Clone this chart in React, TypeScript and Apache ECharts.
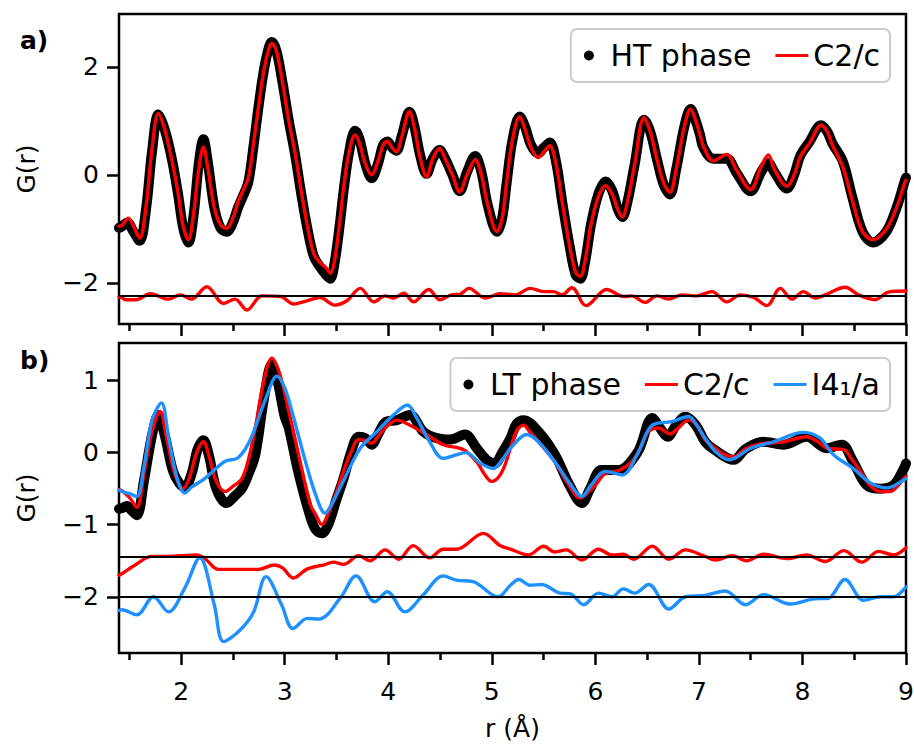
import React, { useEffect, useRef } from "react";
import * as echarts from "echarts";

const FONT = "DejaVu Sans";

// ---------- Panel a) HT phase ----------
const htData = [
  [1.4, -0.98], [1.43, -0.95], [1.48, -0.88], [1.54, -1.05], [1.6, -1.22], [1.66, -0.65], [1.72, 0.45],
  [1.78, 1.12], [1.84, 0.85], [1.91, 0.3], [1.97, -0.35], [2.02, -0.98], [2.07, -1.25], [2.12, -0.75],
  [2.17, 0.2], [2.215, 0.66], [2.26, 0.2], [2.32, -0.6], [2.38, -0.98], [2.44, -1.05], [2.5, -0.88],
  [2.55, -0.6], [2.6, -0.38], [2.65, -0.12], [2.7, 0.55], [2.75, 1.3], [2.8, 1.95], [2.85, 2.38],
  [2.876, 2.46], [2.92, 2.3], [2.98, 1.7], [3.04, 1.0], [3.1, 0.38], [3.16, -0.35], [3.22, -1.0],
  [3.28, -1.5], [3.34, -1.7], [3.4, -1.85], [3.44, -1.92], [3.48, -1.65], [3.53, -0.95], [3.57, -0.28],
  [3.62, 0.4], [3.68, 0.82], [3.72, 0.68], [3.78, 0.2], [3.84, -0.06], [3.9, 0.2], [3.95, 0.55],
  [3.99, 0.62], [4.04, 0.5], [4.08, 0.45], [4.13, 0.72], [4.205, 1.17], [4.25, 0.92], [4.31, 0.35],
  [4.37, 0.02], [4.43, 0.3], [4.495, 0.46], [4.55, 0.3], [4.62, 0.0], [4.69, -0.3], [4.76, 0.05],
  [4.84, 0.35], [4.9, 0.05], [4.96, -0.55], [5.05, -1.05], [5.1, -0.8], [5.14, -0.2], [5.2, 0.65],
  [5.27, 1.08], [5.32, 0.9], [5.38, 0.55], [5.45, 0.4], [5.5, 0.5], [5.56, 0.6], [5.62, 0.25],
  [5.68, -0.5], [5.75, -1.3], [5.81, -1.85], [5.855, -1.92], [5.9, -1.62], [5.96, -0.9], [6.03, -0.35],
  [6.1, -0.12], [6.16, -0.28], [6.22, -0.65], [6.26, -0.78], [6.31, -0.5], [6.38, 0.2], [6.47, 1.02],
  [6.53, 0.8], [6.6, 0.25], [6.66, -0.18], [6.72, -0.36], [6.78, 0.1], [6.86, 0.9], [6.92, 1.22],
  [6.97, 1.0], [7.01, 0.75], [7.045, 0.5], [7.14, 0.3], [7.27, 0.3], [7.36, 0.05], [7.5, -0.3],
  [7.6, 0.05], [7.67, 0.22], [7.73, 0.05], [7.85, -0.25], [7.92, 0.0], [7.98, 0.36], [8.07, 0.62],
  [8.18, 0.92], [8.24, 0.8], [8.29, 0.58], [8.39, 0.25], [8.48, -0.4], [8.58, -1.05], [8.68, -1.25],
  [8.81, -1.05], [8.91, -0.6], [8.99, -0.1], [9.0, -0.05],
];

const htFitC2c = [
  [1.4, -0.95], [1.43, -0.93], [1.49, -0.8], [1.54, -0.95], [1.6, -1.17], [1.66, -0.6], [1.72, 0.5],
  [1.78, 1.14], [1.84, 0.85], [1.91, 0.28], [1.97, -0.33], [2.02, -0.95], [2.07, -1.2], [2.12, -0.72],
  [2.17, 0.1], [2.215, 0.52], [2.26, 0.1], [2.32, -0.6], [2.38, -0.92], [2.44, -0.99], [2.5, -0.8],
  [2.55, -0.5], [2.6, -0.28], [2.65, -0.05], [2.7, 0.6], [2.75, 1.3], [2.8, 1.95], [2.85, 2.35],
  [2.876, 2.44], [2.92, 2.3], [2.98, 1.7], [3.04, 1.0], [3.1, 0.41], [3.16, -0.3], [3.22, -0.95],
  [3.28, -1.45], [3.34, -1.62], [3.4, -1.72], [3.44, -1.82], [3.48, -1.6], [3.53, -0.9], [3.57, -0.22],
  [3.62, 0.4], [3.68, 0.74], [3.72, 0.6], [3.78, 0.2], [3.84, 0.0], [3.9, 0.25], [3.95, 0.55],
  [3.99, 0.62], [4.04, 0.5], [4.08, 0.43], [4.13, 0.7], [4.205, 1.17], [4.25, 0.9], [4.31, 0.3],
  [4.37, -0.03], [4.43, 0.3], [4.495, 0.49], [4.55, 0.3], [4.62, 0.0], [4.69, -0.31], [4.76, 0.0],
  [4.84, 0.28], [4.9, 0.0], [4.96, -0.55], [5.05, -1.05], [5.1, -0.8], [5.14, -0.2], [5.2, 0.65],
  [5.27, 1.08], [5.32, 0.85], [5.38, 0.5], [5.45, 0.32], [5.5, 0.42], [5.56, 0.54], [5.62, 0.2],
  [5.68, -0.5], [5.75, -1.3], [5.81, -1.8], [5.855, -1.88], [5.9, -1.6], [5.96, -0.9], [6.03, -0.4],
  [6.1, -0.2], [6.16, -0.35], [6.22, -0.65], [6.26, -0.78], [6.31, -0.5], [6.38, 0.2], [6.47, 1.06],
  [6.53, 0.8], [6.6, 0.25], [6.66, -0.15], [6.72, -0.32], [6.78, 0.1], [6.86, 0.9], [6.92, 1.22],
  [6.97, 1.0], [7.01, 0.75], [7.045, 0.52], [7.14, 0.26], [7.27, 0.38], [7.36, 0.1], [7.5, -0.27],
  [7.6, 0.15], [7.67, 0.37], [7.73, 0.1], [7.85, -0.21], [7.92, 0.0], [7.98, 0.34], [8.07, 0.59],
  [8.18, 0.92], [8.24, 0.8], [8.29, 0.55], [8.39, 0.15], [8.48, -0.46], [8.58, -1.05], [8.68, -1.2],
  [8.81, -1.0], [8.91, -0.6], [8.99, -0.13], [9.0, -0.1],
];

const htDiffC2c = [
  [1.4, -2.26], [1.427, -2.27], [1.459, -2.31], [1.57, -2.31], [1.7, -2.2], [1.877, -2.3], [1.99, -2.22],
  [2.1, -2.3], [2.248, -2.07], [2.41, -2.38], [2.52, -2.3], [2.635, -2.5], [2.78, -2.24], [2.96, -2.25],
  [3.085, -2.39], [3.215, -2.33], [3.34, -2.27], [3.485, -2.41], [3.6, -2.33], [3.73, -2.1], [3.86, -2.35],
  [3.97, -2.24], [4.05, -2.28], [4.15, -2.19], [4.245, -2.35], [4.39, -2.12], [4.5, -2.31], [4.61, -2.22],
  [4.69, -2.21], [4.78, -2.1], [4.935, -2.28], [5.08, -2.2], [5.226, -2.22], [5.37, -2.1], [5.5, -2.16],
  [5.595, -2.16], [5.677, -2.22], [5.774, -2.09], [5.91, -2.42], [6.11, -2.12], [6.27, -2.25], [6.35, -2.24],
  [6.48, -2.36], [6.595, -2.24], [6.707, -2.3], [6.836, -2.22], [6.98, -2.24], [7.126, -2.16], [7.27, -2.35],
  [7.4, -2.22], [7.53, -2.27], [7.657, -2.42], [7.786, -2.1], [7.9, -2.3], [8.01, -2.16], [8.124, -2.28],
  [8.22, -2.22], [8.414, -2.08], [8.54, -2.22], [8.7, -2.31], [8.83, -2.17], [9.0, -2.15],
];
const HT_DIFF_OFFSET = -2.23;

// ---------- Panel b) LT phase ----------
const ltData = [
  [1.4, -0.78], [1.43, -0.77], [1.475, -0.74], [1.52, -0.8], [1.572, -0.87], [1.64, -0.4], [1.72, 0.25],
  [1.78, 0.52], [1.84, 0.25], [1.92, -0.25], [1.98, -0.42], [2.035, -0.48], [2.1, -0.3], [2.16, 0.05],
  [2.215, 0.17], [2.27, -0.05], [2.34, -0.5], [2.44, -0.7], [2.52, -0.6], [2.587, -0.5], [2.65, -0.3],
  [2.716, -0.03], [2.8, 0.75], [2.876, 1.22], [2.93, 1.0], [3.0, 0.5], [3.04, 0.34], [3.12, -0.2],
  [3.17, -0.49], [3.25, -0.9], [3.3, -1.07], [3.359, -1.12], [3.42, -1.0], [3.5, -0.65], [3.568, -0.36],
  [3.64, 0.0], [3.713, 0.22], [3.78, 0.2], [3.84, 0.11], [3.9, 0.25], [3.98, 0.43], [4.083, 0.45],
  [4.21, 0.52], [4.34, 0.29], [4.47, 0.2], [4.6, 0.18], [4.74, 0.25], [4.855, 0.06], [4.95, -0.1],
  [5.03, -0.15], [5.1, 0.0], [5.18, 0.2], [5.24, 0.4], [5.307, 0.45], [5.45, 0.29], [5.61, -0.03],
  [5.75, -0.45], [5.87, -0.7], [5.95, -0.5], [6.06, -0.24], [6.225, -0.24], [6.41, 0.01], [6.55, 0.48],
  [6.62, 0.35], [6.7, 0.22], [6.78, 0.38], [6.87, 0.5], [6.97, 0.38], [7.06, 0.15], [7.14, 0.05],
  [7.335, -0.1], [7.45, 0.05], [7.62, 0.15], [7.82, 0.11], [8.04, 0.22], [8.236, 0.06], [8.38, 0.11],
  [8.48, -0.1], [8.59, -0.4], [8.65, -0.48], [8.75, -0.5], [8.88, -0.45], [8.98, -0.22], [9.0, -0.15],
];

const ltFitC2c = [
  [1.4, -0.52], [1.43, -0.53], [1.5, -0.62], [1.572, -0.76], [1.64, -0.3], [1.72, 0.3], [1.797, 0.57],
  [1.86, 0.2], [1.94, -0.3], [2.02, -0.5], [2.08, -0.35], [2.15, 0.0], [2.215, 0.15], [2.27, -0.05],
  [2.34, -0.4], [2.425, -0.54], [2.5, -0.47], [2.587, -0.36], [2.65, -0.1], [2.716, 0.34], [2.8, 1.0],
  [2.876, 1.31], [2.95, 1.1], [3.04, 0.57], [3.17, -0.26], [3.25, -0.73], [3.3, -0.86], [3.359, -1.0],
  [3.42, -0.85], [3.5, -0.55], [3.568, -0.26], [3.64, 0.0], [3.713, 0.18], [3.77, 0.17], [3.84, 0.13],
  [3.9, 0.22], [3.97, 0.34], [4.083, 0.45], [4.21, 0.38], [4.37, 0.25], [4.53, 0.11], [4.727, 0.04],
  [4.855, -0.13], [4.93, -0.3], [5.0, -0.4], [5.06, -0.35], [5.114, -0.22], [5.18, 0.06], [5.24, 0.3],
  [5.307, 0.38], [5.37, 0.28], [5.45, 0.15], [5.61, -0.13], [5.73, -0.42], [5.854, -0.63], [5.93, -0.55],
  [6.0, -0.45], [6.096, -0.29], [6.225, -0.25], [6.35, -0.13], [6.43, 0.05], [6.514, 0.29], [6.61, 0.34],
  [6.723, 0.26], [6.8, 0.34], [6.9, 0.45], [6.98, 0.38], [7.06, 0.18], [7.14, 0.08], [7.25, -0.03],
  [7.335, -0.06], [7.45, 0.05], [7.59, 0.12], [7.82, 0.15], [8.04, 0.22], [8.14, 0.16], [8.236, 0.06],
  [8.4, 0.04], [8.48, -0.1], [8.56, -0.26], [8.65, -0.45], [8.75, -0.54], [8.85, -0.54], [8.92, -0.46],
  [8.98, -0.36], [9.0, -0.33],
];

const ltFitI41a = [
  [1.4, -0.52], [1.43, -0.54], [1.5, -0.57], [1.572, -0.61], [1.64, -0.2], [1.72, 0.45], [1.81, 0.69],
  [1.88, 0.2], [1.96, -0.35], [2.035, -0.56], [2.1, -0.48], [2.228, -0.36], [2.425, -0.12], [2.54, -0.08],
  [2.62, 0.05], [2.69, 0.25], [2.82, 0.76], [2.925, 1.06], [3.0, 0.9], [3.07, 0.57], [3.2, -0.12],
  [3.3, -0.59], [3.39, -0.84], [3.46, -0.7], [3.568, -0.39], [3.73, 0.06], [3.89, 0.29], [4.05, 0.52],
  [4.186, 0.66], [4.26, 0.52], [4.4, 0.15], [4.53, -0.08], [4.66, -0.03], [4.75, 0.0], [4.89, -0.15],
  [5.016, -0.22], [5.11, -0.08], [5.18, 0.06], [5.34, 0.25], [5.45, 0.15], [5.61, -0.13], [5.75, -0.42],
  [5.87, -0.61], [5.96, -0.45], [6.096, -0.26], [6.26, -0.31], [6.4, -0.04], [6.55, 0.38], [6.74, 0.43],
  [6.9, 0.5], [6.98, 0.38], [7.06, 0.2], [7.17, 0.0], [7.29, -0.1], [7.5, 0.06], [7.72, 0.15],
  [8.01, 0.28], [8.17, 0.2], [8.3, -0.03], [8.49, -0.22], [8.655, -0.42], [8.82, -0.49], [8.98, -0.38],
  [9.0, -0.36],
];

const ltDiffC2c = [
  [1.4, -1.7], [1.427, -1.68], [1.556, -1.56], [1.717, -1.44], [1.878, -1.44], [2.006, -1.43], [2.15, -1.42],
  [2.23, -1.47], [2.36, -1.62], [2.52, -1.62], [2.748, -1.62], [2.9, -1.56], [2.98, -1.6], [3.085, -1.74],
  [3.21, -1.62], [3.3, -1.58], [3.375, -1.56], [3.47, -1.52], [3.57, -1.55], [3.713, -1.43], [3.826, -1.5],
  [3.97, -1.35], [4.1, -1.48], [4.24, -1.29], [4.4, -1.46], [4.53, -1.34], [4.66, -1.34], [4.92, -1.12],
  [5.08, -1.29], [5.18, -1.34], [5.355, -1.42], [5.5, -1.3], [5.61, -1.38], [5.72, -1.35], [5.87, -1.49],
  [6.03, -1.34], [6.16, -1.42], [6.27, -1.41], [6.37, -1.48], [6.55, -1.3], [6.71, -1.48], [6.87, -1.35],
  [7.06, -1.44], [7.16, -1.49], [7.32, -1.43], [7.46, -1.5], [7.625, -1.41], [7.85, -1.47], [8.04, -1.42],
  [8.22, -1.51], [8.4, -1.36], [8.575, -1.52], [8.735, -1.37], [8.88, -1.42], [9.0, -1.32],
];

const ltDiffI41a = [
  [1.4, -2.19], [1.427, -2.18], [1.572, -2.25], [1.733, -2.0], [1.878, -2.21], [2.035, -1.88], [2.18, -1.46],
  [2.32, -2.11], [2.41, -2.62], [2.57, -2.46], [2.7, -2.21], [2.82, -1.72], [2.97, -2.11], [3.08, -2.44],
  [3.22, -2.3], [3.33, -2.31], [3.536, -2.02], [3.69, -1.71], [3.87, -2.07], [3.99, -1.93], [4.16, -2.21],
  [4.34, -1.97], [4.53, -1.71], [4.66, -1.77], [4.82, -1.79], [5.06, -2.0], [5.18, -1.84], [5.26, -1.76],
  [5.37, -1.84], [5.48, -1.83], [5.66, -1.95], [5.76, -1.96], [5.887, -2.11], [6.03, -1.95], [6.16, -2.0],
  [6.27, -1.89], [6.38, -1.95], [6.515, -1.83], [6.71, -2.17], [6.87, -2.0], [7.06, -1.98], [7.255, -1.92],
  [7.45, -2.11], [7.625, -1.97], [7.88, -2.1], [8.11, -2.03], [8.25, -2.02], [8.41, -1.76], [8.59, -2.05],
  [8.75, -2.0], [8.88, -2.0], [9.0, -1.86],
];
const LT_DIFF_OFFSET_C2C = -1.45;
const LT_DIFF_OFFSET_I41A = -2.0;

// ---------- Axes ----------
const X_MIN = 1.4;
const X_MAX = 9;
const xMajorTicks = [2, 3, 4, 5, 6, 7, 8, 9];
const xMinorTicks = [1.5, 2.5, 3.5, 4.5, 5.5, 6.5, 7.5, 8.5];
const yRangeA = [-2.76, 2.98];
const yRangeB = [-2.78, 1.52];
const yTicksA = [-2, 0, 2];
const yTicksB = [-2, -1, 0, 1];

const RED = "#ff0000";
const BLUE = "#1e90ff";
const LINE_ICON = "path://M0,0H33V3H0Z";
const TICK_FONT = 25;
const SPINE = 2.5;

const minusFmt = (v: number) => String(v).replace("-", "\u2212");

function xAxes(gridIndex: number, labels: boolean) {
  const base = {
    gridIndex,
    type: "value",
    min: X_MIN,
    max: X_MAX,
    position: "bottom",
    offset: 0,
    axisLine: { show: false, onZero: false },
    splitLine: { show: false },
  };
  return [
    {
      ...base,
      axisTick: { show: true, customValues: xMajorTicks, length: 12, lineStyle: { color: "#000", width: SPINE } },
      axisLabel: labels
        ? { show: true, customValues: xMajorTicks, margin: 26, fontSize: TICK_FONT, color: "#000", fontFamily: FONT }
        : { show: false },
      ...(labels
        ? {
            name: "r (Å)",
            nameLocation: "middle",
            nameGap: 63,
            nameTextStyle: { fontSize: TICK_FONT, color: "#000", fontFamily: FONT },
          }
        : {}),
    },
    {
      ...base,
      axisTick: { show: true, customValues: xMinorTicks, length: 7, lineStyle: { color: "#000", width: SPINE } },
      axisLabel: { show: false },
    },
  ];
}

function yAxis(gridIndex: number, range: number[], ticks: number[]) {
  return {
    gridIndex,
    type: "value",
    min: range[0],
    max: range[1],
    axisLine: { show: false, onZero: false },
    splitLine: { show: false },
    axisTick: { show: true, customValues: ticks, length: 12, lineStyle: { color: "#000", width: SPINE } },
    axisLabel: {
      show: true,
      customValues: ticks,
      formatter: minusFmt,
      margin: 20,
      fontSize: TICK_FONT,
      color: "#000",
      fontFamily: FONT,
    },
    name: "G(r)",
    nameLocation: "middle",
    nameGap: 80,
    nameTextStyle: { fontSize: TICK_FONT, color: "#000", fontFamily: FONT },
  };
}

function lineSeries(name: string, data: number[][], color: string, width: number, xi: number, yi: number, z: number, extra: any = {}) {
  return {
    type: "line",
    name,
    data,
    xAxisIndex: xi,
    yAxisIndex: yi,
    color,
    showSymbol: false,
    symbol: "none",
    smooth: 0.35,
    z,
    lineStyle: { color, width, cap: "round", join: "round" },
    itemStyle: { color },
    ...extra,
  };
}

function baseline(value: number) {
  return {
    silent: true,
    symbol: ["none", "none"],
    label: { show: false },
    lineStyle: { color: "#000", width: 2.2, type: "solid" },
    data: [{ yAxis: value }],
  };
}

function legend(top: number, items: any[]) {
  return {
    right: 24,
    top,
    orient: "horizontal",
    selectedMode: false,
    itemWidth: 33,
    itemHeight: 10,
    itemGap: 24,
    padding: [11, 10, 11, 13],
    borderColor: "#cccccc",
    borderWidth: 2,
    borderRadius: 6,
    backgroundColor: "rgba(255,255,255,0.8)",
    itemStyle: { borderWidth: 0 },
    textStyle: { fontSize: 30, color: "#000", fontFamily: FONT, lineHeight: 31 },
    data: items,
  };
}

export default function App() {
  const ref = useRef<HTMLDivElement>(null);

  useEffect(() => {
    if (!ref.current) return;
    const chart = echarts.init(ref.current, undefined, { renderer: "svg" });
    const option: any = {
      animation: false,
      backgroundColor: "#ffffff",
      textStyle: { fontFamily: FONT },
      grid: [
        { left: 119, top: 14, width: 787, height: 310, show: true, borderColor: "#000", borderWidth: SPINE, backgroundColor: "transparent", outerBoundsMode: "none" },
        { left: 119, top: 343, width: 787, height: 310, show: true, borderColor: "#000", borderWidth: SPINE, backgroundColor: "transparent", outerBoundsMode: "none" },
      ],
      xAxis: [...xAxes(0, false), ...xAxes(1, true)],
      yAxis: [yAxis(0, yRangeA, yTicksA), yAxis(1, yRangeB, yTicksB)],
      legend: [
        legend(29, [
          { name: "HT phase", icon: "circle" },
          { name: "C2/c", icon: LINE_ICON },
        ]),
        legend(358, [
          { name: "LT phase", icon: "circle" },
          { name: "C2/c", icon: LINE_ICON },
          { name: "I4₁/a", icon: LINE_ICON },
        ]),
      ],
      graphic: [
        { type: "text", left: 20, top: 28, style: { text: "a)", fontSize: 25, fontWeight: "bold", fontFamily: FONT, fill: "#000" } },
        { type: "text", left: 20, top: 348, style: { text: "b)", fontSize: 25, fontWeight: "bold", fontFamily: FONT, fill: "#000" } },
      ],
      series: [
        lineSeries("HT phase", htData, "#000000", 10, 0, 0, 2),
        lineSeries("C2/c", htFitC2c, RED, 3.4, 0, 0, 3),
        lineSeries("HT diff C2/c", htDiffC2c, RED, 3.4, 0, 0, 3, { markLine: baseline(HT_DIFF_OFFSET) }),
        lineSeries("LT phase", ltData, "#000000", 10, 2, 1, 2),
        lineSeries("C2/c", ltFitC2c, RED, 3.4, 2, 1, 3),
        lineSeries("I4₁/a", ltFitI41a, BLUE, 3.4, 2, 1, 4),
        lineSeries("LT diff C2/c", ltDiffC2c, RED, 3.4, 2, 1, 3, { markLine: baseline(LT_DIFF_OFFSET_C2C) }),
        lineSeries("LT diff I4₁/a", ltDiffI41a, BLUE, 3.4, 2, 1, 4, { markLine: baseline(LT_DIFF_OFFSET_I41A) }),
      ],
    };
    chart.setOption(option);
    return () => chart.dispose();
  }, []);

  return (
    <div
      ref={ref}
      style={{ position: "fixed", left: 0, top: 0, width: 914, height: 744, background: "#fff" }}
    />
  );
}
